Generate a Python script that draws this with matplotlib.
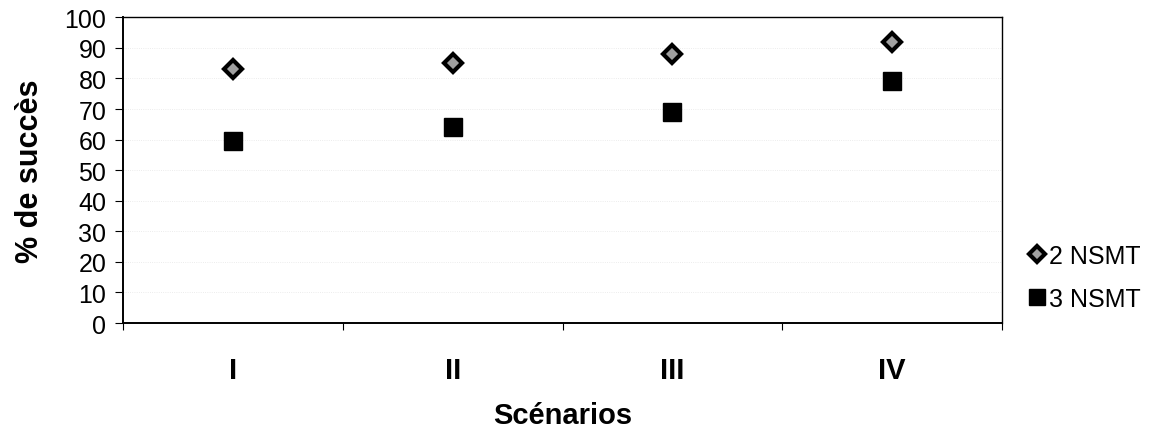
import matplotlib.pyplot as plt

plt.rcParams['font.family'] = ['Liberation Sans', 'DejaVu Sans']

scenarios = ['I', 'II', 'III', 'IV']
nsmt2 = [83, 85, 88, 92]
nsmt3 = [59.5, 64, 69, 79]

fig, ax = plt.subplots(figsize=(11.61, 4.35), dpi=100)
fig.subplots_adjust(left=0.106, right=0.863, top=0.958, bottom=0.255)

pos = [i + 0.5 for i in range(len(scenarios))]
ax.plot(pos, nsmt2, linestyle='none', marker='D', markersize=9,
        markerfacecolor='#a0a0a0', markeredgecolor='black', markeredgewidth=3,
        label='2 NSMT')
ax.plot(pos, nsmt3, linestyle='none', marker='s', markersize=13,
        color='black', label='3 NSMT')

ax.set_xlim(0, len(scenarios))
ax.set_ylim(0, 100)
ax.set_yticks(range(0, 101, 10))
ax.tick_params(axis='y', labelsize=18, length=6, width=0.8, direction='out', pad=6)
# category ticks sit between the groups, labels in the middle
ax.set_xticks(range(len(scenarios) + 1))
ax.set_xticklabels([])
ax.set_xticks(pos, minor=True)
ax.set_xticklabels(scenarios, minor=True, fontsize=21, fontweight='bold')
ax.tick_params(axis='x', which='major', length=5, width=0.8)
ax.tick_params(axis='x', which='minor', length=0, pad=24)

ax.yaxis.grid(True, color='#e6e6e6', linestyle=':', linewidth=0.6)
ax.set_axisbelow(True)
for s in ax.spines.values():
    s.set_linewidth(1.0)
ax.spines['left'].set_linewidth(1.4)
ax.spines['bottom'].set_linewidth(1.4)

ax.set_ylabel('% de succès', fontsize=22, fontweight='bold', labelpad=14)
ax.set_xlabel('Scénarios', fontsize=21, fontweight='bold', labelpad=12)

ax.legend(loc='center left', bbox_to_anchor=(1.0, 0.15), frameon=False,
          fontsize=18, handletextpad=0.0, handlelength=1.0, labelspacing=0.75,
          markerscale=0.85)

fig.savefig('out.png', dpi=100)
